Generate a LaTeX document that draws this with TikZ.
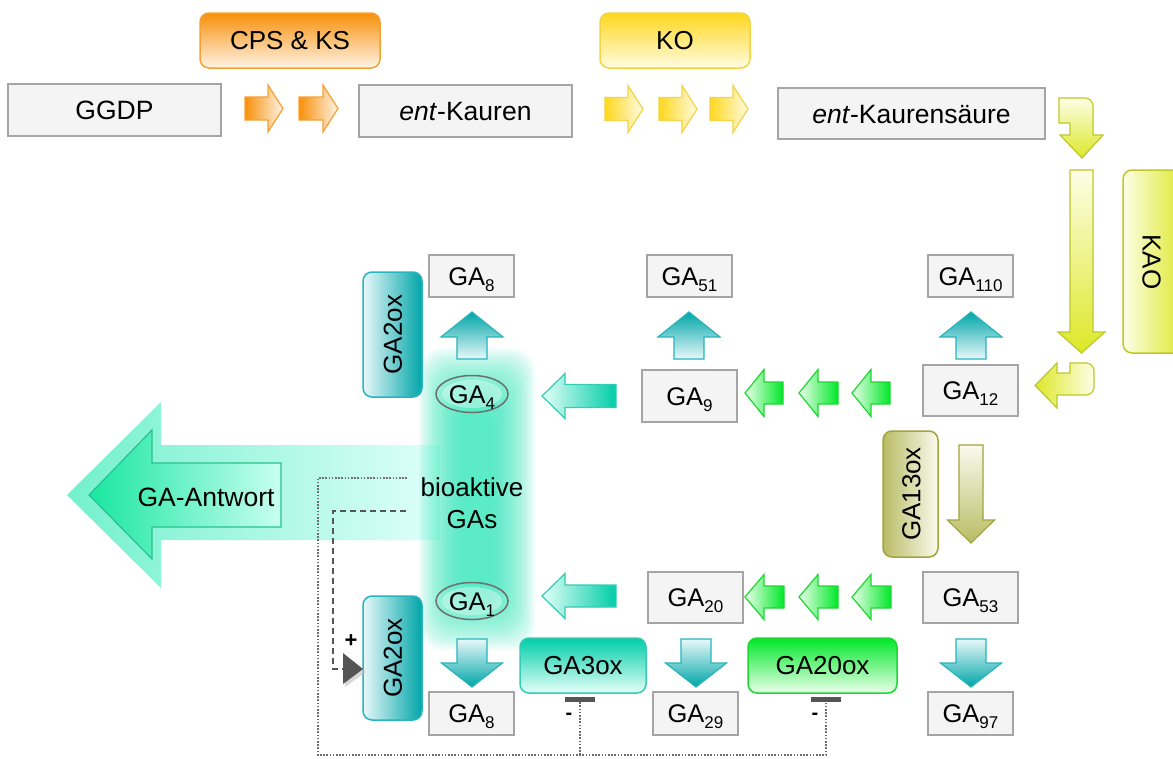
\documentclass[tikz,border=0pt]{standalone}
\usepackage{fontspec}
\setmainfont{Liberation Sans}
\usetikzlibrary{shapes.geometric}
\definecolor{boxB}{RGB}{165,165,165}
\definecolor{boxF}{RGB}{244,244,244}
\definecolor{orC}{RGB}{247,144,10}
\definecolor{orL}{RGB}{255,244,230}
\definecolor{orB}{RGB}{246,160,50}
\definecolor{yeC}{RGB}{255,215,30}
\definecolor{yeL}{RGB}{255,252,225}
\definecolor{yeB}{RGB}{242,212,70}
\definecolor{ygC}{RGB}{220,232,40}
\definecolor{ygL}{RGB}{253,254,230}
\definecolor{ygB}{RGB}{190,200,40}
\definecolor{olC}{RGB}{185,188,100}
\definecolor{olL}{RGB}{250,250,238}
\definecolor{olB}{RGB}{160,165,60}
\definecolor{teC}{RGB}{0,165,168}
\definecolor{teL}{RGB}{232,248,250}
\definecolor{teB}{RGB}{40,180,188}
\definecolor{aqC}{RGB}{0,205,168}
\definecolor{aqL}{RGB}{228,255,248}
\definecolor{aqB}{RGB}{50,205,180}
\definecolor{grC}{RGB}{0,232,40}
\definecolor{grL}{RGB}{235,255,235}
\definecolor{grB}{RGB}{30,215,50}
\definecolor{glowA}{RGB}{115,240,205}
\definecolor{glowB}{RGB}{222,255,250}
\definecolor{glowC}{RGB}{55,235,190}
\definecolor{glowM}{RGB}{200,255,242}
\definecolor{antA}{RGB}{25,230,160}
\definecolor{antB}{RGB}{200,255,240}
\definecolor{antBd}{RGB}{40,195,140}
\definecolor{ellB}{RGB}{110,110,110}
\definecolor{dkG}{RGB}{85,85,85}
\newcommand{\gsub}[2]{#1\raisebox{-6pt}{\fontsize{17}{17}\selectfont #2}}
% horizontal block arrow: style, tip x, centre y, head base x, tail x, half head, half body
\newcommand{\harr}[7]{\path[#1] (#2,#3) -- (#4,#3-#6) -- (#4,#3-#7) -- (#5,#3-#7) -- (#5,#3+#7) -- (#4,#3+#7) -- (#4,#3+#6) -- cycle;}
% vertical block arrow: style, tip y, centre x, head base y, tail y, half head, half body
\newcommand{\varr}[7]{\path[#1] (#3,#2) -- (#3-#6,#4) -- (#3-#7,#4) -- (#3-#7,#5) -- (#3+#7,#5) -- (#3+#7,#4) -- (#3+#6,#4) -- cycle;}
\tikzset{
  gabox/.style={draw=boxB, fill=boxF, line width=1.5pt, inner sep=0pt, text height=18.3pt, text depth=0pt, font=\fontsize{25.5}{28}\selectfont},
  topbox/.style={gabox, font=\fontsize{26.5}{30}\selectfont, text height=19pt},
  enz/.style={rounded corners=9pt, line width=1.5pt, inner sep=0pt, text height=18.6pt, text depth=0pt, font=\fontsize{26}{30}\selectfont},
  enztxt/.style={inner sep=0pt, text height=18.6pt, text depth=0pt, font=\fontsize{26}{30}\selectfont},
  orarr/.style={left color=orC, right color=orL, draw=orB, line width=1.2pt},
  yearr/.style={left color=yeC, right color=yeL, draw=yeB, line width=1.2pt},
  grarr/.style={left color=grL, right color=grC, draw=grB, line width=1.2pt},
  aqarr/.style={left color=aqL, right color=aqC, draw=aqB, line width=1.2pt},
  teup/.style={top color=teC, bottom color=teL, draw=teB, line width=1.2pt},
  tedown/.style={top color=teL, bottom color=teC, draw=teB, line width=1.2pt},
  oldown/.style={top color=olL, bottom color=olC, draw=olB, line width=1.2pt},
  ygdown/.style={top color=ygL, bottom color=ygC, draw=ygB, line width=1.2pt},
  gaell/.style={ellipse, draw=ellB, line width=1.5pt, minimum width=72, minimum height=37, inner sep=0pt, text height=18.3pt, text depth=0pt, font=\fontsize{25.5}{28}\selectfont},
  dotline/.style={draw=dkG!85, line width=1.6pt, dash pattern=on 1.6pt off 1.6pt},
  dashline/.style={draw=dkG, line width=1.5pt, dash pattern=on 6pt off 4pt},
}
\begin{document}
\begin{tikzpicture}[x=1pt,y=-1pt]
\useasboundingbox (0,0) rectangle (1173,758);
\fill[white] (0,0) rectangle (1173,758);

% ---------- GA-Antwort glow and column glow ----------
\path[left color=glowA, right color=glowB] (67,495) -- (161,402) -- (161,445) -- (440,445) -- (440,540) -- (161,540) -- (161,588) -- cycle;
\foreach \k in {0,...,19} {
  \path[top color=glowC, middle color=glowM, bottom color=glowC, opacity=0.075, rounded corners=24pt] (419+\k*2.2,348+\k*3) rectangle (535-\k*2.2,650-\k*3);
}
\path[left color=antA, right color=antB, draw=antBd, line width=1.2pt] (89,495) -- (152,430) -- (152,463) -- (281,463) -- (281,527) -- (152,527) -- (152,559) -- cycle;
\node[inner sep=0pt, font=\fontsize{26.5}{30}\selectfont] (antwort) at (206,497) {GA-Antwort};

% ---------- top row ----------
\node[enz, draw=orB, top color=orC, bottom color=orL, minimum width=180, minimum height=55] (cps) at (290,40.5) {CPS \& KS};
\node[enz, draw=yeB, top color=yeC, bottom color=yeL, minimum width=150, minimum height=55] (ko) at (675,40.5) {KO};
\node[topbox, minimum width=213, minimum height=52] (ggdp) at (114.5,110) {GGDP};
\node[topbox, minimum width=213, minimum height=52] (kauren) at (465.5,111) {\textit{ent}-Kauren};
\node[topbox, minimum width=267, minimum height=51] (saeure) at (911.5,113.5) {\textit{ent}-Kaurens\"aure};
\harr{orarr}{283}{108.5}{268}{245}{23.5}{11.5}
\harr{orarr}{338}{108.5}{323}{299}{23.5}{11.5}
\harr{yearr}{643}{109}{628}{605}{23.5}{11.5}
\harr{yearr}{697}{109}{682}{659}{23.5}{11.5}
\harr{yearr}{748}{109}{733}{710}{23.5}{11.5}

% ---------- right side (KAO) ----------
\path[ygdown] (1059,98) -- (1085,98) .. controls (1089.4,98) and (1093,101.6) .. (1093,106) -- (1093,135) -- (1103,135) -- (1082,158) -- (1060,135) -- (1070,135) -- (1070,123) -- (1059,123) -- cycle;
\varr{ygdown}{353}{1081.5}{332}{170}{23.5}{11.5}
\path[left color=ygC, right color=ygL, draw=ygB, line width=1.2pt] (1070,363) -- (1086,363) .. controls (1090.4,363) and (1094,366.6) .. (1094,371) -- (1094,387) .. controls (1094,391.4) and (1090.4,395) .. (1086,395) -- (1057,395) -- (1057,408) -- (1035,385.5) -- (1057,363) -- (1057,373) -- (1070,373) -- cycle;
\node[enz, draw=ygB, left color=ygL, right color=ygC, minimum width=62, minimum height=183] (kao) at (1154,261.5) {};
\node[enztxt, rotate=-90] at (1152,262) {KAO};

% ---------- GA row 1 ----------
\node[gabox, minimum width=85, minimum height=42] (ga8a) at (471.5,276) {\gsub{GA}{8}};
\node[gabox, minimum width=85, minimum height=42] (ga51) at (689.5,276) {\gsub{GA}{51}};
\node[gabox, minimum width=85, minimum height=42] (ga110) at (970.5,276) {\gsub{GA}{110}};
\varr{teup}{312}{472}{337}{359}{31}{15}
\varr{teup}{312}{689}{337}{359}{31}{15}
\varr{teup}{312}{971}{337}{359}{31}{15}
\node[enz, draw=teB, left color=teL, right color=teC, minimum width=59, minimum height=125] (ga2oxa) at (392.5,334.5) {};
\node[enztxt, rotate=90] at (392.5,334.5) {GA2ox};
\fill[white, opacity=0.35] (472,394) ellipse[x radius=30, y radius=14];
\node[gaell] (ga4) at (472,394) {\gsub{GA}{4}};
\harr{aqarr}{542}{396}{565}{616}{22.5}{11.5}
\node[gabox, minimum width=95, minimum height=52] (ga9) at (689.5,396) {\gsub{GA}{9}};
\harr{grarr}{745}{393}{764}{783}{23.5}{11}
\harr{grarr}{799}{393}{818}{838}{23.5}{11}
\harr{grarr}{852}{393}{871}{890}{23.5}{11}
\node[gabox, minimum width=95, minimum height=51] (ga12) at (970.5,390.5) {\gsub{GA}{12}};

% ---------- middle ----------
\node[enz, draw=olB, left color=olC, right color=olL, minimum width=55, minimum height=126] (ga13ox) at (910.5,494) {};
\node[enztxt, rotate=90] at (911,494) {GA13ox};
\varr{oldown}{543}{971}{520}{445}{23.5}{12}
\node[inner sep=0pt, align=center, font=\fontsize{26}{32}\selectfont] (bioak) at (472,503) {bioaktive\\GAs};

% ---------- GA row 2 ----------
\fill[white, opacity=0.35] (472,601) ellipse[x radius=30, y radius=14];
\node[gaell] (ga1) at (472,601) {\gsub{GA}{1}};
\harr{aqarr}{542}{596}{565}{616}{22.5}{11}
\node[gabox, minimum width=95, minimum height=51] (ga20) at (695.5,597.5) {\gsub{GA}{20}};
\harr{grarr}{745}{597}{764}{784}{22.5}{11}
\harr{grarr}{799}{597}{818}{838}{22.5}{11}
\harr{grarr}{852}{597}{871}{891}{22.5}{11}
\node[gabox, minimum width=95, minimum height=51] (ga53) at (970.5,597.5) {\gsub{GA}{53}};
\node[enz, draw=teB, left color=teL, right color=teC, minimum width=59, minimum height=124] (ga2oxb) at (392.5,658) {};
\node[enztxt, rotate=90] at (392.5,658) {GA2ox};
\varr{tedown}{687}{472}{663}{639}{30.5}{15}
\varr{tedown}{687}{696}{663}{639}{30.5}{15}
\varr{tedown}{687}{971}{663}{639}{30.5}{15}
\node[enz, draw=aqB, top color=aqC, bottom color=aqL, minimum width=126, minimum height=55] (ga3ox) at (583,665.5) {GA3ox};
\node[enz, draw=grB, top color=grC, bottom color=grL, minimum width=149, minimum height=55] (ga20ox) at (822.5,665.5) {GA20ox};
\node[gabox, minimum width=85, minimum height=43] (ga8b) at (471.5,713.5) {\gsub{GA}{8}};
\node[gabox, minimum width=85, minimum height=43] (ga29) at (695.5,713.5) {\gsub{GA}{29}};
\node[gabox, minimum width=85, minimum height=43] (ga97) at (970.5,713.5) {\gsub{GA}{97}};

% ---------- regulation ----------
\node[fill=dkG, minimum width=30, minimum height=5, inner sep=0pt] (inh1) at (580,699.5) {};
\node[fill=dkG, minimum width=30, minimum height=5, inner sep=0pt] (inh2) at (826,699.5) {};
\node[inner sep=0pt, font=\bfseries\fontsize{20}{20}\selectfont] at (569,716) {-};
\node[inner sep=0pt, font=\bfseries\fontsize{20}{20}\selectfont] at (815,716) {-};
\coordinate (dotS) at (407,478);
\coordinate (dotC) at (318,755);
\draw[dotline] (dotS) -- (318,478) -- (dotC) -- (826,755) -- (inh2.south);
\draw[dotline] (580,755) -- (inh1.south);
\coordinate (dashS) at (406,511);
\coordinate (actT) at (343,669);
\draw[dashline] (dashS) -- (333,511) |- (actT);
\fill[black!25, opacity=0.6] (345,656) -- (366,672) -- (345,687) -- cycle;
\fill[dkG] (343,653) -- (363,669) -- (343,684) -- cycle;
\node[inner sep=0pt, font=\bfseries\fontsize{22}{22}\selectfont] at (351,641) {+};
\end{tikzpicture}
\end{document}
